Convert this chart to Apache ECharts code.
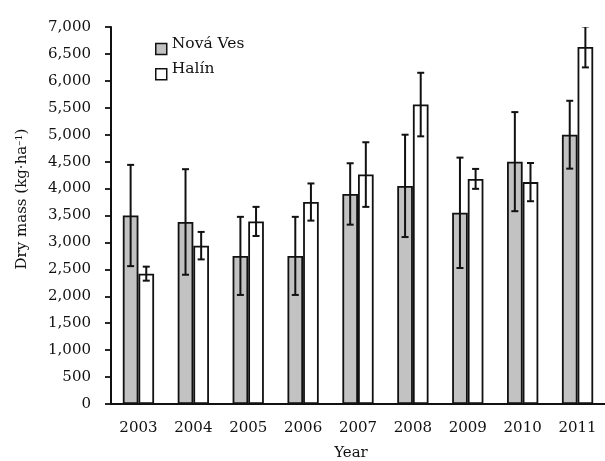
<!DOCTYPE html>
<html>
<head>
<meta charset="utf-8">
<script src="https://cdn.jsdelivr.net/npm/echarts@6/dist/echarts.min.js"></script>
<style>
  html, body { margin: 0; padding: 0; background: #fff; }
  #chart { width: 605px; height: 461px; }
</style>
</head>
<body>
<div id="chart"></div>
<script>
// Annual dry mass at two sites, mean ± deviation
const years = ['2003', '2004', '2005', '2006', '2007', '2008', '2009', '2010', '2011'];
const novaVes = [3500, 3380, 2750, 2750, 3900, 4050, 3550, 4500, 5000];
const novaVesErr = [940, 980, 725, 725, 570, 950, 1025, 920, 630];
const halin = [2420, 2940, 3390, 3750, 4260, 5560, 4180, 4120, 6630];
const halinErr = [130, 255, 270, 345, 600, 590, 185, 355, 380];
const yTicks = [0, 500, 1000, 1500, 2000, 2500, 3000, 3500, 4000, 4500, 5000, 5500, 6000, 6500, 7000];

const FONT = 'DejaVu Serif';
const INK = '#111111';
const BAR_FRAC = 0.285;

function fmt(v) {
  return String(v).replace(/\B(?=(\d{3})+(?!\d))/g, ',');
}

// whisker for one bar: side -1 = left bar, +1 = right bar
function errorRenderer(means, errs, side) {
  return function (params, api) {
    const i = api.value(0);
    const mean = means[i], e = errs[i];
    const band = api.size([1, 0])[0];
    const dx = side * band * BAR_FRAC / 2;
    const hi = api.coord([i, mean + e]);
    const lo = api.coord([i, mean - e]);
    const x = hi[0] + dx;
    const cap = 3.5;
    const style = { stroke: INK, lineWidth: 2 };
    return {
      type: 'group',
      children: [
        { type: 'line', shape: { x1: x, y1: hi[1], x2: x, y2: lo[1] }, style },
        { type: 'line', shape: { x1: x - cap, y1: hi[1], x2: x + cap, y2: hi[1] }, style },
        { type: 'line', shape: { x1: x - cap, y1: lo[1], x2: x + cap, y2: lo[1] }, style }
      ]
    };
  };
}

const chart = echarts.init(document.getElementById('chart'), null, { renderer: 'canvas' });

chart.setOption({
  animation: false,
  textStyle: { fontFamily: FONT, color: INK },
  grid: { left: 111, top: 27, width: 500.5, bottom: 57, containLabel: false },
  legend: {
    orient: 'vertical',
    left: 150,
    top: 31,
    itemWidth: 11,
    itemHeight: 11,
    itemGap: 6,
    icon: 'rect',
    data: ['Nová Ves', 'Halín'],
    formatter: name => '{t|' + name + '}',
    textStyle: {
      fontFamily: FONT, fontSize: 15.5, color: INK,
      rich: { t: { fontFamily: FONT, fontSize: 15.5, color: INK, padding: [0, 0, 10, 0] } }
    },
    itemStyle: { borderColor: INK, borderWidth: 1.5 }
  },
  xAxis: {
    type: 'category',
    data: years,
    axisLine: { lineStyle: { color: INK, width: 2 } },
    axisTick: { length: 5, lineStyle: { color: INK, width: 1.8 } },
    axisLabel: { fontFamily: FONT, fontSize: 15, color: INK, margin: 17 }
  },
  yAxis: {
    type: 'value',
    min: yTicks[0],
    max: yTicks[yTicks.length - 1],
    interval: 500,
    splitLine: { show: false },
    axisLine: { show: true, lineStyle: { color: INK, width: 2 } },
    axisTick: { show: true, length: 6, lineStyle: { color: INK, width: 1.8 } },
    axisLabel: { fontFamily: FONT, fontSize: 15, color: INK, margin: 20, formatter: fmt }
  },
  graphic: [
    {
      type: 'text',
      x: 22,
      y: 199,
      rotation: Math.PI / 2,
      style: {
        text: 'Dry mass (kg·ha{sup|–1})',
        fontFamily: FONT,
        fontSize: 15,
        fill: INK,
        align: 'center',
        verticalAlign: 'middle',
        rich: {
          sup: { fontFamily: FONT, fontSize: 10, fill: INK, verticalAlign: 'top', padding: [0, 0, 6, 0] }
        }
      }
    },
    {
      type: 'text',
      x: 351,
      y: 453,
      style: {
        text: 'Year',
        fontFamily: FONT,
        fontSize: 15,
        fill: INK,
        align: 'center',
        verticalAlign: 'middle'
      }
    }
  ],
  series: [
    {
      name: 'Nová Ves',
      type: 'bar',
      data: novaVes,
      barWidth: (BAR_FRAC * 100) + '%',
      barGap: '0%',
      itemStyle: { color: '#c2c2c2', borderColor: INK, borderWidth: 1.8 }
    },
    {
      name: 'Halín',
      type: 'bar',
      data: halin,
      barWidth: (BAR_FRAC * 100) + '%',
      barGap: '0%',
      itemStyle: { color: '#ffffff', borderColor: INK, borderWidth: 1.8 }
    },
    {
      type: 'custom',
      clip: true,
      renderItem: errorRenderer(novaVes, novaVesErr, -1),
      data: years.map((y, i) => [i]),
      z: 5
    },
    {
      type: 'custom',
      clip: true,
      renderItem: errorRenderer(halin, halinErr, 1),
      data: years.map((y, i) => [i]),
      z: 5
    }
  ]
});
</script>
</body>
</html>
